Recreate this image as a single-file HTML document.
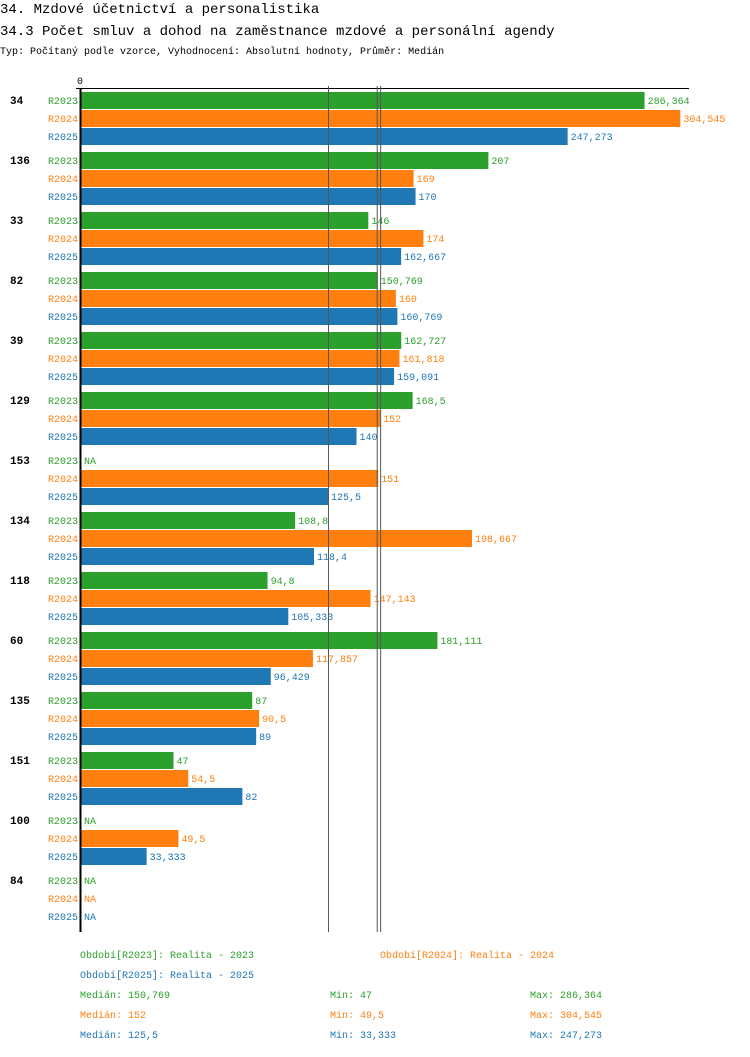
<!DOCTYPE html>
<html><head><meta charset="utf-8"><style>
body{margin:0;background:#fff;width:750px;height:1052px;overflow:hidden;font-family:"Liberation Mono",monospace}
svg text{font-family:"Liberation Mono",monospace}
</style></head><body>
<svg id="c" width="750" height="1052" xmlns="http://www.w3.org/2000/svg">
<text x="0" y="13" font-size="14" fill="#000">34. Mzdové účetnictví a personalistika</text>
<text x="0" y="35" font-size="14" fill="#000">34.3 Počet smluv a dohod na zaměstnance mzdové a personální agendy</text>
<text x="0" y="54" font-size="10" fill="#000">Typ: Počítaný podle vzorce, Vyhodnocení: Absolutní hodnoty, Průměr: Medián</text>
<text x="77" y="84" font-size="10" fill="#000">0</text>
<line x1="76" y1="88.5" x2="689" y2="88.5" stroke="#000"/>
<g id="bars"></g>
<g id="legend"></g>
</svg>
<script>
const categories=["34","136","33","82","39","129","153","134","118","60","135","151","100","84"];
const series=["R2023","R2024","R2025"];
const colors=["#2ca02c","#ff7f0e","#1f77b4"];
const r2023=[286.364,207,146,150.769,162.727,168.5,null,108.8,94.8,181.111,87,47,null,null];
const r2024=[304.545,169,174,160,161.818,152,151,198.667,147.143,117.857,90.5,54.5,49.5,null];
const r2025=[247.273,170,162.667,160.769,159.091,140,125.5,118.4,105.333,96.429,89,82,33.333,null];
const medians=[150.769,152,125.5];
const mins=[47,49.5,33.333];
const maxs=[286.364,304.545,247.273];
const periods=["Realita - 2023","Realita - 2024","Realita - 2025"];
const ns="http://www.w3.org/2000/svg";
const x0=81, scale=1.968;
const xs=v=>x0+v*scale;
const fmt=v=>String(v).replace('.',',');
const g=document.getElementById('bars');
function mk(tag,attrs,parent){const e=document.createElementNS(ns,tag);for(const k in attrs)e.setAttribute(k,attrs[k]);parent.appendChild(e);return e;}
const data=[r2023,r2024,r2025];
categories.forEach((c,i)=>{
  const gy=92+i*60;
  const t=mk('text',{x:10,y:gy+12,'font-size':11,'font-weight':'bold',fill:'#000'},g);
  t.textContent=c;
  
  
  series.forEach((s,j)=>{
    const y=gy+j*18;
    const l=mk('text',{x:78,y:y+12,'font-size':10,fill:colors[j],'text-anchor':'end'},g);
    l.textContent=s;
    
    
    const v=data[j][i];
    if(v!=null){
      const r=mk('rect',{x:x0,y:y,width:xs(v)-x0,height:17,fill:colors[j]},g);
      
      
    }
    const vt=mk('text',{x:(v!=null?xs(v):x0)+3,y:y+12,'font-size':10,fill:colors[j]},g);
    vt.textContent=v!=null?fmt(v):'NA';
    
    
  });
});
const ax=mk('line',{x1:80.5,y1:88,x2:80.5,y2:932,stroke:'#000','stroke-width':2},g);


[2,1,0].forEach(j=>{
  const off=j===0?-1:0;
  const ml=mk('line',{x1:xs(medians[j])+off+0.5,y1:86,x2:xs(medians[j])+off+0.5,y2:932,stroke:'#555','stroke-width':1},g);
  
  
});
const lg=document.getElementById('legend');
const lpos=[[80,958],[380,958],[80,978]];
series.forEach((s,j)=>{
  const t=mk('text',{x:lpos[j][0],y:lpos[j][1],'font-size':10,fill:colors[j]},lg);
  t.textContent='Období['+s+']: '+periods[j];
  
  
  const y=998+j*20;
  const a=mk('text',{x:80,y:y,'font-size':10,fill:colors[j]},lg);
  a.textContent='Medián: '+fmt(medians[j]);
  
  
  const b=mk('text',{x:330,y:y,'font-size':10,fill:colors[j]},lg);
  b.textContent='Min: '+fmt(mins[j]);
  
  
  const d=mk('text',{x:530,y:y,'font-size':10,fill:colors[j]},lg);
  d.textContent='Max: '+fmt(maxs[j]);
  
  
});
</script>
</body></html>
